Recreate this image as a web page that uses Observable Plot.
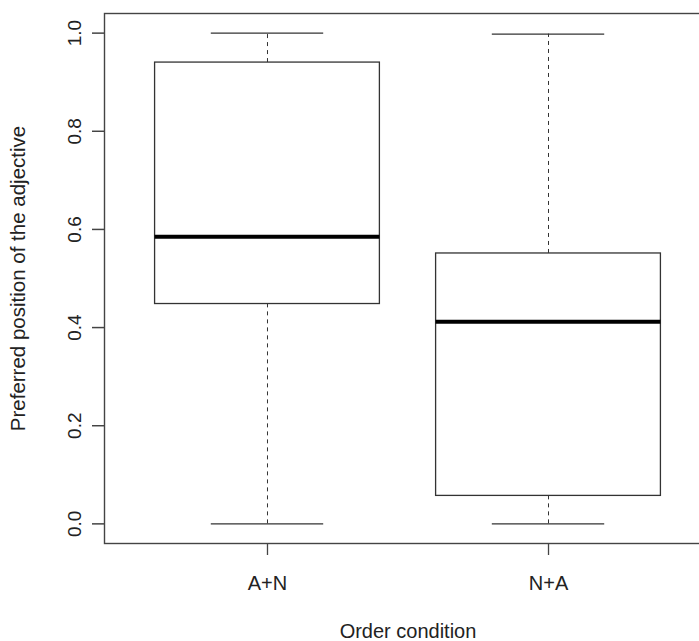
<!DOCTYPE html>
<html>
<head>
<meta charset="utf-8">
<script src="https://cdn.jsdelivr.net/npm/d3@7"></script>
<script src="https://cdn.jsdelivr.net/npm/@observablehq/plot@0.6"></script>
<style>
  html, body { margin: 0; padding: 0; background: #fff; overflow: hidden; }
  #chart svg { display: block; max-width: none !important; }
</style>
</head>
<body>
<div id="chart"></div>
<script>
// Data
const categories = ["A+N", "N+A"];
const whiskerLow = [0.0, 0.0];
const q1 = [0.448, 0.057];
const median = [0.585, 0.412];
const q3 = [0.940, 0.551];
const whiskerHigh = [1.0, 0.998];
const yTicks = [0, 0.2, 0.4, 0.6, 0.8, 1.0];
const yLabel = "Preferred position of the adjective";
const xLabel = "Order condition";

const rows = categories.map((c, i) => ({
  cat: c, pos: i + 1,
  lo: whiskerLow[i], q1: q1[i], med: median[i], q3: q3[i], hi: whiskerHigh[i]
}));

const boxHalf = 0.4, capHalf = 0.2;
const lineColor = "#333";

const chart = Plot.plot({
  width: 712,
  height: 641,
  marginLeft: 104,
  marginRight: 1,
  marginTop: 13,
  marginBottom: 98,
  style: { fontFamily: "'Liberation Sans', Arial, sans-serif", color: "#222", background: "white", maxWidth: "none" },
  x: { type: "linear", domain: [0.42, 2.58] },
  y: { domain: [-0.04, 1.04] },
  marks: [
    Plot.ruleX(rows, { x: "pos", y1: "q3", y2: "hi", stroke: lineColor, strokeDasharray: "4,4" }),
    Plot.ruleX(rows, { x: "pos", y1: "lo", y2: "q1", stroke: lineColor, strokeDasharray: "4,4" }),
    Plot.ruleY(rows, { y: "hi", x1: d => d.pos - capHalf, x2: d => d.pos + capHalf, stroke: lineColor, strokeWidth: 1.2 }),
    Plot.ruleY(rows, { y: "lo", x1: d => d.pos - capHalf, x2: d => d.pos + capHalf, stroke: lineColor, strokeWidth: 1.2 }),
    Plot.rect(rows, { x1: d => d.pos - boxHalf, x2: d => d.pos + boxHalf, y1: "q1", y2: "q3", fill: "white", stroke: lineColor, strokeWidth: 1.3 }),
    Plot.ruleY(rows, { y: "med", x1: d => d.pos - boxHalf, x2: d => d.pos + boxHalf, stroke: "black", strokeWidth: 4 }),
    Plot.frame({ stroke: "#444", strokeWidth: 1.4 }),
    Plot.axisX({ ticks: [1, 2], tickFormat: d => categories[d - 1], tickSize: 12, tickPadding: 20, fontSize: 20, label: null, stroke: "#444", strokeWidth: 1.3 }),
    // y tick marks
    Plot.axisY({ ticks: yTicks, tickFormat: () => "", tickSize: 12, label: null, stroke: "#444", strokeWidth: 1.5 }),
    // y tick labels (rotated, as in R)
    Plot.axisY({ ticks: yTicks, tickFormat: d3.format(".1f"), tickSize: 0, tickPadding: 30, rotate: -90, textAnchor: "middle", fontSize: 19, label: null }),
    Plot.text([yLabel], { text: d => d, frameAnchor: "left", textAnchor: "middle", rotate: -90, dx: -85.6, fontSize: 20.5, fill: "#222" }),
    Plot.text([xLabel], { text: d => d, frameAnchor: "bottom", dy: 94, fontSize: 20, fill: "#222" })
  ]
});
document.getElementById("chart").appendChild(chart);
</script>
</body>
</html>
